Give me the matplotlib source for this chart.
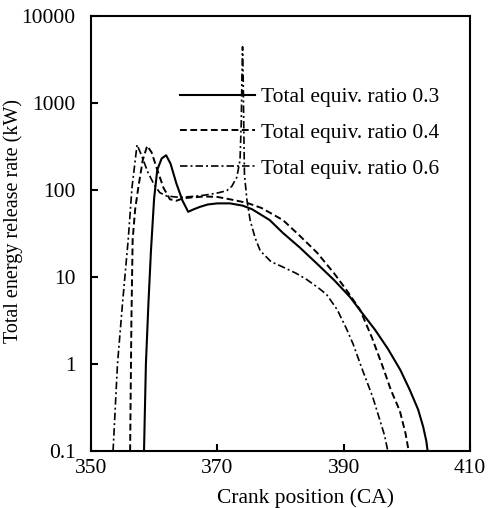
import matplotlib
matplotlib.use("Agg")
import matplotlib.pyplot as plt
from matplotlib.ticker import FixedLocator, FixedFormatter, NullLocator

plt.rcParams['font.family'] = ['Liberation Serif', 'DejaVu Serif']

# Equivalence ratio 0.3 (solid)
ca_03 = [358.4, 358.7, 359.1, 359.5, 360.0, 360.5, 361.2, 361.9, 362.6, 363.5,
         364.5, 365.4, 366.3, 367.3, 368.5, 370.0, 372.0, 374.0, 375.5, 378.3,
         380.4, 383.0, 385.7, 388.5, 391.0, 393.0, 395.0, 397.0, 399.0, 400.5,
         401.8, 402.6, 403.1, 403.3]
q_03 = [0.1, 1, 5, 20, 80, 170, 230, 250, 200, 120,
        75, 56, 60, 64, 68, 70, 70, 66, 60, 45,
        32, 22, 14.4, 9.2, 5.9, 3.8, 2.46, 1.5, 0.85, 0.5,
        0.3, 0.19, 0.13, 0.1]

# Equivalence ratio 0.4 (dashed)
ca_04 = [356.2, 356.4, 356.6, 357.0, 357.5, 358.2, 358.9, 359.6, 360.5, 361.5,
         362.5, 363.5, 364.6, 366.0, 368.0, 370.0, 372.0, 374.7, 377.0, 380.4,
         383.0, 385.8, 388.5, 390.5, 392.6, 394.5, 396.2, 397.5, 398.9, 399.8,
         400.2, 400.3]
q_04 = [0.1, 3, 27, 60, 107, 220, 320, 270, 170, 105,
        78, 75, 80, 82, 84, 83, 78, 71, 62, 45,
        30, 19, 11, 7, 4.2, 2.0, 0.93, 0.5, 0.29, 0.16,
        0.11, 0.1]

# Equivalence ratio 0.6 (dash-dot)
ca_06 = [353.5, 354.2, 355.0, 355.9, 356.5, 357.3, 358.0, 359.0, 360.0, 360.9,
         362.0, 364.1, 366.0, 368.0, 370.0, 371.5, 372.3, 373.1, 373.6, 373.8,
         373.9, 374.0, 374.1, 374.2, 374.3, 374.7, 375.2, 376.0, 376.8, 378.5,
         380.4, 382.5, 384.2, 386.0, 387.3, 389.0, 390.5, 391.5, 393.0, 394.6,
         395.8, 396.5, 397.0]
q_06 = [0.1, 1, 5, 27, 107, 330, 250, 160, 115, 93,
        85, 82, 84, 87, 92, 98, 110, 140, 220, 600,
        2000, 4400, 2000, 500, 150, 76, 45, 28, 20, 15,
        13, 11, 9.3, 7.5, 6.3, 4.2, 2.5, 1.7, 0.85, 0.42,
        0.22, 0.15, 0.1]

labels = ["Total equiv. ratio 0.3", "Total equiv. ratio 0.4", "Total equiv. ratio 0.6"]
x_ticks = [350, 370, 390, 410]
y_ticks = [0.1, 1, 10, 100, 1000, 10000]
y_ticklabels = ["0.1", "1", "10", "100", "1000", "10000"]

fig = plt.figure(figsize=(4.89, 5.08), dpi=100)
ax = fig.add_axes([0.186, 0.112, 0.775, 0.857])

ax.plot(ca_03, q_03, color='black', linestyle='-', linewidth=1.5, label=labels[0])
ax.plot(ca_04, q_04, color='black', linestyle=(0, (3.5, 1.8)), linewidth=1.4, label=labels[1])
ax.plot(ca_06, q_06, color='black', linestyle=(0, (4.5, 1.8, 1.2, 1.8)), linewidth=1.2, label=labels[2])

ax.set_yscale('log')
ax.set_xlim(350, 410)
ax.set_ylim(0.1, 10000)
ax.xaxis.set_major_locator(FixedLocator(x_ticks))
ax.yaxis.set_major_locator(FixedLocator(y_ticks))
ax.yaxis.set_major_formatter(FixedFormatter(y_ticklabels))
ax.yaxis.set_minor_locator(NullLocator())
ax.tick_params(direction='in', length=5, width=1.5, labelsize=15.5)
ax.tick_params(axis='y', pad=11)
ax.tick_params(axis='x', pad=6)
for s in ax.spines.values():
    s.set_linewidth(1.5)

# Axis labels sit a little off-centre in the original
ax.set_xlabel("Crank position (CA)", fontsize=15.5)
ax.set_ylabel("Total energy release rate (kW)", fontsize=14.5)
ax.xaxis.set_label_coords(0.567, -0.085)
ax.yaxis.set_label_coords(-0.178, 0.529)

ax.legend(frameon=False, fontsize=15.5, loc='upper left', bbox_to_anchor=(0.235, 0.836),
          borderpad=0, borderaxespad=0, handlelength=3.5, handletextpad=0.28,
          labelspacing=0.73)

fig.savefig("out.png", dpi=100)
